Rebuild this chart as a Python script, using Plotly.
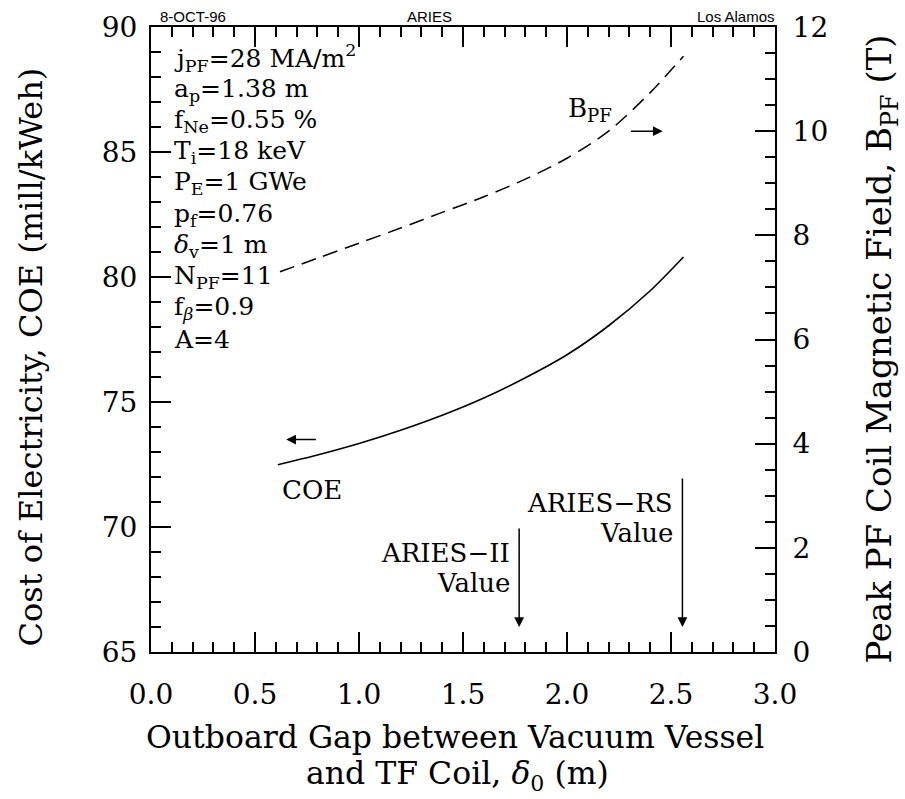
import plotly.graph_objects as go

# ---- data ----
gap_coe = [0.61, 0.8, 1.0, 1.2, 1.4, 1.6, 1.8, 2.0, 2.2, 2.4, 2.56]
coe = [72.49, 72.88, 73.34, 73.87, 74.47, 75.16, 75.97, 76.89, 78.05, 79.45, 80.8]

gap_bpf = [0.62, 0.8, 1.0, 1.2, 1.4, 1.6, 1.8, 2.0, 2.2, 2.4, 2.56]
bpf = [7.30, 7.56, 7.85, 8.14, 8.44, 8.74, 9.08, 9.48, 10.0, 10.74, 11.44]

x_ticks = [0.0, 0.5, 1.0, 1.5, 2.0, 2.5, 3.0]
coe_ticks = [65, 70, 75, 80, 85, 90]
bpf_ticks = [0, 2, 4, 6, 8, 10, 12]

params = [
    "j<sub>PF</sub>=28 MA/m<sup>2</sup>",
    "a<sub>p</sub>=1.38 m",
    "f<sub>Ne</sub>=0.55 %",
    "T<sub>i</sub>=18 keV",
    "P<sub>E</sub>=1 GWe",
    "p<sub>f</sub>=0.76",
    "<i>δ</i><sub>v</sub>=1 m",
    "N<sub>PF</sub>=11",
    "f<sub><i>β</i></sub>=0.9",
    "A=4",
]

aries_ii_gap = 1.77
aries_rs_gap = 2.555

SERIF = "DejaVu Serif"
SANS = "Liberation Sans, Arial, sans-serif"

fig = go.Figure()
fig.add_trace(go.Scatter(x=gap_coe, y=coe, mode="lines",
                         line=dict(color="black", width=1.6, shape="spline", smoothing=0.8),
                         showlegend=False, hoverinfo="skip"))
fig.add_trace(go.Scatter(x=gap_bpf, y=bpf, mode="lines", yaxis="y2",
                         line=dict(color="black", width=1.5, dash="15px,8px", shape="spline", smoothing=0.8),
                         showlegend=False, hoverinfo="skip"))

tickfont = dict(family=SERIF, size=28, color="black")
common = dict(showgrid=False, zeroline=False, showline=True, linecolor="black", linewidth=2,
              ticks="inside", ticklen=20, tickwidth=1.5, tickcolor="black", tickfont=tickfont)

fig.update_layout(
    width=905, height=799,
    margin=dict(l=151, r=130, t=27, b=147),
    paper_bgcolor="white", plot_bgcolor="white",
    xaxis=dict(range=[0, 3], tickvals=x_ticks, tickformat=".1f", mirror="ticks",
               minor=dict(dtick=0.1, ticks="inside", ticklen=10, tickwidth=1.5, tickcolor="black"),
               ticklabelstandoff=16, **common),
    yaxis=dict(range=[65, 90], tickvals=coe_ticks,
               minor=dict(dtick=1, ticks="inside", ticklen=10, tickwidth=1.5, tickcolor="black"),
               ticklabelstandoff=6, **common),
    yaxis2=dict(range=[0, 12], tickvals=bpf_ticks, overlaying="y", side="right",
                minor=dict(dtick=0.5, ticks="inside", ticklen=10, tickwidth=1.5, tickcolor="black"),
                ticklabelstandoff=10, **common),
)

ann = []
# header texts
hfont = dict(family=SANS, size=15, color="black")
ann.append(dict(text="8-OCT-96", xref="paper", yref="paper", x=0.011, y=1, yshift=11,
                xanchor="left", yanchor="middle", showarrow=False, font=hfont))
ann.append(dict(text="ARIES", xref="paper", yref="paper", x=0.447, y=1, yshift=11,
                xanchor="center", yanchor="middle", showarrow=False, font=hfont))
ann.append(dict(text="Los Alamos", xref="paper", yref="paper", x=1.003, y=1, yshift=11,
                xanchor="right", yanchor="middle", showarrow=False, font=hfont))

# parameter block
pfont = dict(family=SERIF, size=25, color="black")
for i, t in enumerate(params):
    ann.append(dict(text=t, xref="x", yref="y", x=0.10, y=88.75 - 1.25 * i,
                    xanchor="left", yanchor="middle", showarrow=False, font=pfont))

# curve labels
lfont = dict(family=SERIF, size=26, color="black")
ann.append(dict(text="B<sub>PF</sub>", xref="x", yref="y2", x=2.11, y=10.41,
                xanchor="center", yanchor="middle", showarrow=False, font=lfont))
ann.append(dict(text="COE", xref="x", yref="y", x=0.775, y=71.48,
                xanchor="center", yanchor="middle", showarrow=False, font=lfont))

# direction arrows
ann.append(dict(text="", x=0.65, y=73.5, ax=0.80, ay=73.5, xref="x", yref="y", axref="x", ayref="y",
                showarrow=True, arrowhead=2, arrowsize=1.3, arrowwidth=1.5, arrowcolor="black"))
ann.append(dict(text="", x=2.46, y=10.0, ax=2.30, ay=10.0, xref="x", yref="y2", axref="x", ayref="y2",
                showarrow=True, arrowhead=2, arrowsize=1.3, arrowwidth=1.5, arrowcolor="black"))

# ARIES value markers
ann.append(dict(text="", x=aries_ii_gap, y=66.0, ax=aries_ii_gap, ay=70.0, xref="x", yref="y",
                axref="x", ayref="y", showarrow=True, arrowhead=2, arrowsize=1.3, arrowwidth=1.5,
                arrowcolor="black"))
ann.append(dict(text="", x=aries_rs_gap, y=66.0, ax=aries_rs_gap, ay=72.0, xref="x", yref="y",
                axref="x", ayref="y", showarrow=True, arrowhead=2, arrowsize=1.3, arrowwidth=1.5,
                arrowcolor="black"))
for t, yy in [("ARIES−II", 68.96), ("Value", 67.76)]:
    ann.append(dict(text=t, xref="x", yref="y", x=1.735, y=yy, xanchor="right", yanchor="middle",
                    showarrow=False, font=lfont))
for t, yy in [("ARIES−RS", 70.96), ("Value", 69.76)]:
    ann.append(dict(text=t, xref="x", yref="y", x=2.52, y=yy, xanchor="right", yanchor="middle",
                    showarrow=False, font=lfont))

# axis titles
ann.append(dict(text="Cost of Electricity, COE (mill/kWeh)", textangle=-90,
                xref="paper", yref="paper", x=0, xshift=-121, y=0.5, yshift=-18,
                xanchor="center", yanchor="middle", showarrow=False,
                font=dict(family=SERIF, size=32, color="black")))
ann.append(dict(text="Peak PF Coil Magnetic Field, B<sub>PF</sub> (T)", textangle=-90,
                xref="paper", yref="paper", x=1, xshift=106, y=0.5, yshift=-10,
                xanchor="center", yanchor="middle", showarrow=False,
                font=dict(family=SERIF, size=34, color="black")))
xtfont = dict(family=SERIF, size=31.5, color="black")
ann.append(dict(text="Outboard Gap between Vacuum Vessel", xref="paper", yref="paper",
                x=0.5, xshift=-8, y=0, yshift=-85, xanchor="center", yanchor="middle",
                showarrow=False, font=xtfont))
ann.append(dict(text="and TF Coil, <i>δ</i><sub>0</sub> (m)", xref="paper", yref="paper",
                x=0.5, xshift=-6, y=0, yshift=-123, xanchor="center", yanchor="middle",
                showarrow=False, font=xtfont))

fig.update_layout(annotations=ann)
fig.write_html("out.html")
